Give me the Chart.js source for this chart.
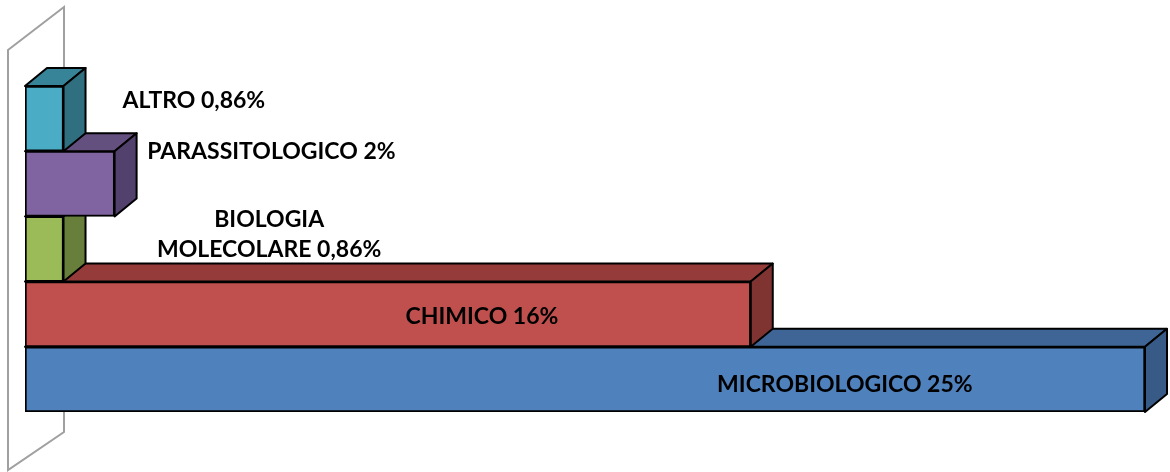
<!DOCTYPE html>
<html lang="it">
<head>
<meta charset="utf-8">
<title>Analisi per tipologia</title>
<script src="https://cdn.jsdelivr.net/npm/chart.js@4"></script>
<style>
  html, body { margin: 0; padding: 0; background: #fff; }
  #wrap { width: 1170px; height: 472px; position: relative; }
</style>
</head>
<body>
<div id="wrap"><canvas id="chart"></canvas></div>
<script>
// dati (dall'alto verso il basso)
const categorie = ['ALTRO', 'PARASSITOLOGICO', 'BIOLOGIA MOLECOLARE', 'CHIMICO', 'MICROBIOLOGICO'];
const valori = [0.86, 2, 0.86, 16.2, 25];
const etichette = [['ALTRO 0,86%'], ['PARASSITOLOGICO 2%'], ['BIOLOGIA', 'MOLECOLARE 0,86%'], ['CHIMICO 16%'], ['MICROBIOLOGICO 25%']];

// colori: fronte, sopra, lato
const coloriFronte = ['#4BACC6', '#8064A2', '#9BBB59', '#C0504D', '#4F81BD'];
const coloriSopra  = ['#378397', '#64507F', '#789344', '#953C3A', '#3E6596'];
const coloriLato   = ['#306F80', '#52416C', '#687F3B', '#7F3432', '#375A87'];

// posizione etichette: x in unita' della scala, spostamento verticale in px
const posEtichette = [[3.77, -18], [5.5, -32], [5.45, -14], [10.2, 2], [18.3, 5]];

const PROF_X = 22, PROF_Y = 18;

function poly(ctx, pts, fill) {
  ctx.beginPath();
  ctx.moveTo(pts[0][0], pts[0][1]);
  for (let i = 1; i < pts.length; i++) ctx.lineTo(pts[i][0], pts[i][1]);
  ctx.closePath();
  if (fill) { ctx.fillStyle = fill; ctx.fill(); }
  ctx.stroke();
}

// parete di fondo + facce laterali/superiori dei blocchi
const effetto3D = {
  id: 'effetto3D',
  beforeDatasetsDraw(chart) {
    const ctx = chart.ctx;
    const a = chart.chartArea;
    ctx.save();
    // parete
    ctx.strokeStyle = '#A0A0A0';
    ctx.lineWidth = 2;
    ctx.lineJoin = 'miter';
    poly(ctx, [[a.left - 17, 50], [a.left + 39, 7], [a.left + 39, a.bottom + 20], [a.left - 17, 470]], null);

    // dal basso verso l'alto, cosi' i blocchi superiori coprono quelli sotto
    const bars = chart.getDatasetMeta(0).data;
    ctx.strokeStyle = '#000';
    ctx.lineJoin = 'round';
    for (let i = bars.length - 1; i >= 0; i--) {
      const b = bars[i];
      const x0 = b.base, x1 = b.x;
      const y0 = b.y - b.height / 2, y1 = b.y + b.height / 2;
      ctx.lineWidth = 2;
      poly(ctx, [[x0, y0], [x1, y0], [x1 + PROF_X, y0 - PROF_Y], [x0 + PROF_X, y0 - PROF_Y]], coloriSopra[i]);
      poly(ctx, [[x1, y0], [x1 + PROF_X, y0 - PROF_Y], [x1 + PROF_X, y1 - PROF_Y], [x1, y1]], coloriLato[i]);
    }
    ctx.restore();
  },
  afterDatasetsDraw(chart) {
    const ctx = chart.ctx;
    const bars = chart.getDatasetMeta(0).data;
    const sx = chart.scales.x;
    ctx.save();
    ctx.font = 'bold 23px Lato, "Open Sans", sans-serif';
    ctx.fillStyle = '#000';
    ctx.textAlign = 'center';
    ctx.textBaseline = 'middle';
    bars.forEach((b, i) => {
      const righe = etichette[i];
      const x = sx.getPixelForValue(posEtichette[i][0]);
      const yc = b.y + posEtichette[i][1];
      const h = 30;
      righe.forEach((t, k) => {
        ctx.fillText(t, x, yc + (k - (righe.length - 1) / 2) * h);
      });
    });
    ctx.restore();
  }
};

new Chart(document.getElementById('chart'), {
  type: 'bar',
  data: {
    labels: categorie,
    datasets: [{
      data: valori,
      backgroundColor: coloriFronte,
      borderColor: '#000',
      borderWidth: 2,
      borderSkipped: false,
      categoryPercentage: 1,
      barPercentage: 1
    }]
  },
  options: {
    indexAxis: 'y',
    responsive: true,
    maintainAspectRatio: false,
    animation: false,
    layout: { padding: { left: 25, right: 25, top: 86, bottom: 60 } },
    plugins: { legend: { display: false }, tooltip: { enabled: false } },
    scales: {
      x: { display: false, min: 0, max: 25 },
      y: { display: false }
    }
  },
  plugins: [effetto3D]
});
</script>
</body>
</html>
